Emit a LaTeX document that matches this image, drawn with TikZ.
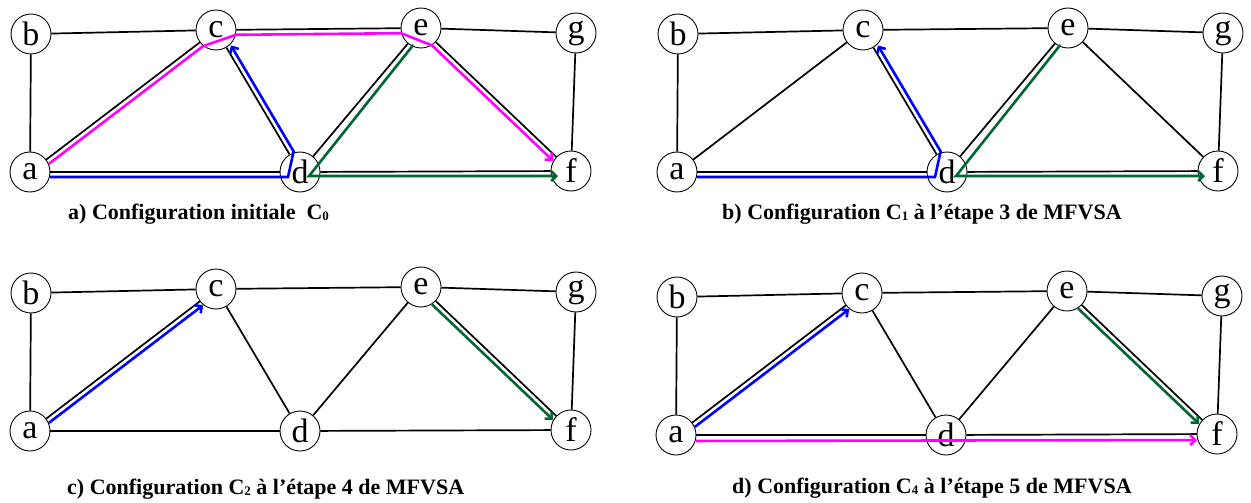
\documentclass[tikz,border=0pt]{standalone}
\usepackage{fontspec}
\setmainfont{Liberation Serif}
\usetikzlibrary{calc,arrows.meta}
\definecolor{pathblue}{RGB}{0,0,255}
\definecolor{pathgreen}{RGB}{0,102,51}
\definecolor{pathmag}{RGB}{255,0,255}
\tikzset{
  vert/.style={circle, draw=black, line width=0.9pt, fill=white, minimum size=40pt, inner sep=0pt, font=\fontsize{34}{34}\selectfont},
  edge/.style={draw=black, line width=1.7pt},
  hl/.style={line width=2.6pt, line join=miter},
  hlarrow/.style={hl, -{Straight Barb[length=5pt,width=10pt]}},
  captext/.style={anchor=west, inner sep=0pt, font=\fontsize{22}{22}\selectfont\bfseries}
}
\newcommand{\subsc}[1]{\raisebox{-1.5pt}{\fontsize{13}{13}\selectfont #1}}
\newcommand{\graphpanel}[3]{%
  \begin{scope}[shift={(#2,#3)}]
    \node[vert] (a#1) at (30,172) {a};
    \node[vert] (b#1) at (31,34) {b};
    \node[vert] (c#1) at (216,30) {c};
    \node[vert] (d#1) at (300,172) {d};
    \node[vert] (e#1) at (421,28) {e};
    \node[vert] (g#1) at (576,33) {g};
    \node[vert] (f#1) at (571,171) {f};
    \draw[edge] (b#1) -- (c#1);
    \draw[edge] (c#1) -- (e#1);
    \draw[edge] (e#1) -- (g#1);
    \draw[edge] (b#1) -- (a#1);
    \draw[edge] (a#1) -- (c#1);
    \draw[edge] (a#1) -- (d#1);
    \draw[edge] (c#1) -- (d#1);
    \draw[edge] (d#1) -- (e#1);
    \draw[edge] (d#1) -- (f#1);
    \draw[edge] (e#1) -- (f#1);
    \draw[edge] (g#1) -- (f#1);
  \end{scope}}
\begin{document}
\begin{tikzpicture}[x=1pt,y=-1pt]
\useasboundingbox (0,0) rectangle (1251,503);
% panels
\graphpanel{1}{0}{0}
\graphpanel{2}{647}{0}
\graphpanel{3}{0}{259}
\graphpanel{4}{646}{263}
% panel a paths
\draw[hlarrow, pathblue] ($(a1)!20pt!(d1)!5pt!-90:(d1)$) -- ($(d1)!12pt!(a1)!5pt!90:(a1)$) -- ($(d1)!21pt!(c1)!5pt!-90:(c1)$) -- ($(c1)!21pt!(d1)!5pt!90:(d1)$);
\draw[hlarrow, pathgreen] ($(e1)!18pt!(d1)!5pt!90:(d1)$) -- ($(d1)+(9,4)$) -- ($(f1)!13pt!(d1)!5pt!90:(d1)$);
\draw[hlarrow, pathmag] ($(a1)!20pt!(c1)!5pt!-90:(c1)$) -- ($(c1)!20pt!(a1)!5pt!90:(a1)$) -- ($(c1)!20pt!(e1)!5pt!-90:(e1)$) -- ($(e1)!20pt!(c1)!5pt!90:(c1)$) -- ($(e1)!20pt!(f1)!5pt!-90:(f1)$) -- ($(f1)!20pt!(e1)!5pt!90:(e1)$);
% panel b paths
\draw[hlarrow, pathblue] ($(a2)!20pt!(d2)!5pt!-90:(d2)$) -- ($(d2)!12pt!(a2)!5pt!90:(a2)$) -- ($(d2)!21pt!(c2)!5pt!-90:(c2)$) -- ($(c2)!21pt!(d2)!5pt!90:(d2)$);
\draw[hlarrow, pathgreen] ($(e2)!18pt!(d2)!5pt!90:(d2)$) -- ($(d2)+(9,4)$) -- ($(f2)!13pt!(d2)!5pt!90:(d2)$);
% panel c paths
\draw[hlarrow, pathblue] ($(a3)!20pt!(c3)!5pt!-90:(c3)$) -- ($(c3)!20pt!(a3)!5pt!90:(a3)$);
\draw[hlarrow, pathgreen] ($(e3)!20pt!(f3)!5pt!-90:(f3)$) -- ($(f3)!20pt!(e3)!5pt!90:(e3)$);
% panel d paths
\draw[hlarrow, pathblue] ($(a4)!20pt!(c4)!5pt!-90:(c4)$) -- ($(c4)!20pt!(a4)!5pt!90:(a4)$);
\draw[hlarrow, pathgreen] ($(e4)!20pt!(f4)!5pt!-90:(f4)$) -- ($(f4)!20pt!(e4)!5pt!90:(e4)$);
\draw[hlarrow, pathmag] ($(a4)!20pt!(f4)!6pt!-90:(f4)$) -- ($(f4)!20pt!(a4)!6pt!90:(a4)$);
% captions
\node[captext] (capa) at (68,214) {a) Configuration initiale\ \ C\subsc{0}};
\node[captext] (capb) at (722,214) {b) Configuration C\subsc{1} à l’étape 3 de MFVSA};
\node[captext] (capc) at (67,489) {c) Configuration C\subsc{2} à l’étape 4 de MFVSA};
\node[captext] (capd) at (732,488) {d) Configuration C\subsc{4} à l’étape 5 de MFVSA};
\end{tikzpicture}
\end{document}
